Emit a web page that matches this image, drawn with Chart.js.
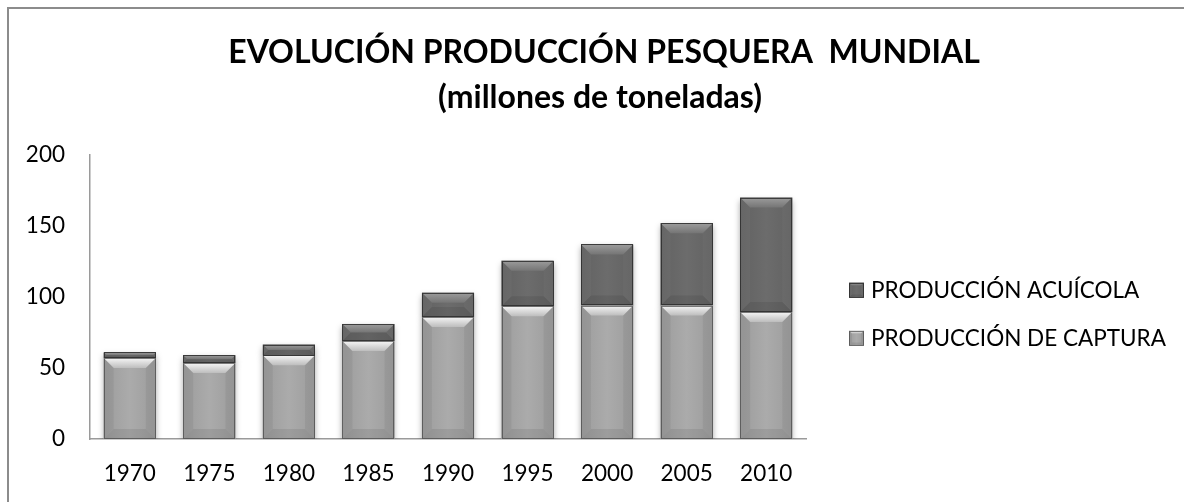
<!DOCTYPE html>
<html lang="es">
<head>
  <meta charset="UTF-8" />
  <title>Evolución producción pesquera mundial</title>
  <script src="https://cdn.jsdelivr.net/npm/chart.js"></script>
  <style>
    html, body { margin: 0; padding: 0; background: #fff; }
    #grafica { display: block; }
  </style>
</head>
<body>
  <canvas id="grafica" width="1184" height="502"></canvas>

  <script>
    // datos (millones de toneladas)
    const anios = ["1970", "1975", "1980", "1985", "1990", "1995", "2000", "2005", "2010"];
    const captura = [57, 53.5, 59, 69, 86, 93.5, 94, 94, 89.5];
    const acuicola = [4, 5.5, 7.5, 12, 17, 32, 43, 58, 80.5];
    const titulo = ["EVOLUCIÓN PRODUCCIÓN PESQUERA  MUNDIAL", "(millones de toneladas)"];
    const etiquetas = ["PRODUCCIÓN DE CAPTURA", "PRODUCCIÓN ACUÍCOLA"];
    const ticksY = [0, 50, 100, 150, 200];

    const FUENTE = "Lato, 'Open Sans', sans-serif";
    const colores = ["#a7a7a7", "#6b6b6b"];

    // marco, título y leyenda
    const textos = {
      id: "textos",
      beforeDraw(chart) {
        const ctx = chart.ctx;
        ctx.save();
        ctx.fillStyle = "#fff";
        ctx.fillRect(0, 0, chart.width, chart.height);
        ctx.strokeStyle = "#8c8c8c";
        ctx.lineWidth = 2;
        ctx.strokeRect(8, 8, chart.width + 20, chart.height + 20);
        ctx.restore();
      },
      afterDraw(chart) {
        const ctx = chart.ctx;
        ctx.save();
        ctx.fillStyle = "#000";
        ctx.textAlign = "center";
        ctx.textBaseline = "alphabetic";
        ctx.font = "bold 32px " + FUENTE;
        ctx.fillText(titulo[0], 604, 63);
        ctx.fillText(titulo[1], 600, 108);

        // leyenda (orden inverso, como en la original)
        ctx.font = "22.5px " + FUENTE;
        ctx.textAlign = "left";
        ctx.textBaseline = "middle";
        const items = [1, 0];
        items.forEach((i, fila) => {
          const yc = 290 + fila * 48;
          const x0 = 849, s = 15;
          bisel(ctx, x0, yc - s / 2, x0 + s, yc + s / 2, colores[i], i === 0, 3);
          ctx.fillStyle = "#000";
          ctx.fillText(etiquetas[i], 871, yc + 1);
        });
        ctx.restore();
      },
      beforeDatasetsDraw(chart) {
        const ctx = chart.ctx;
        ctx.save();
        ctx.shadowColor = "rgba(0,0,0,0.35)";
        ctx.shadowBlur = 6;
        ctx.shadowOffsetY = 3;
      },
      afterDatasetsDraw(chart) {
        const ctx = chart.ctx;
        ctx.restore();
        chart.data.datasets.forEach((ds, i) => {
          const meta = chart.getDatasetMeta(i);
          meta.data.forEach(el => {
            const p = el.getProps(["x", "y", "base", "width"], true);
            const L = p.x - p.width / 2, R = p.x + p.width / 2;
            const T = Math.min(p.y, p.base), B = Math.max(p.y, p.base);
            bisel(ctx, L, T, R, B, colores[i], i === 0, 10);
          });
        });
      }
    };

    // dibuja el relieve de un rectángulo
    function bisel(ctx, L, T, R, B, color, claro, tam) {
      const b = Math.min(tam, (B - T) / 2, (R - L) / 2);
      ctx.save();
      // cara central con degradado horizontal
      const g = ctx.createLinearGradient(L, 0, R, 0);
      if (claro) {
        g.addColorStop(0, "#9c9c9c");
        g.addColorStop(0.5, "#ababab");
        g.addColorStop(1, "#9c9c9c");
      } else {
        g.addColorStop(0, "#626262");
        g.addColorStop(0.5, "#6c6c6c");
        g.addColorStop(1, "#626262");
      }
      ctx.fillStyle = g;
      ctx.fillRect(L, T, R - L, B - T);

      // arriba
      const gt = ctx.createLinearGradient(0, T, 0, T + b);
      if (claro) {
        gt.addColorStop(0, "#f6f6f6");
        gt.addColorStop(1, "#bdbdbd");
      } else {
        gt.addColorStop(0, "#9c9c9c");
        gt.addColorStop(1, "#757575");
      }
      poli(ctx, [[L, T], [R, T], [R - b, T + b], [L + b, T + b]], gt);
      // lados
      const lado = claro ? "rgba(0,0,0,0.05)" : "rgba(255,255,255,0.03)";
      poli(ctx, [[L, T], [L + b, T + b], [L + b, B - b], [L, B]], lado);
      poli(ctx, [[R, T], [R - b, T + b], [R - b, B - b], [R, B]], lado);
      // abajo
      poli(ctx, [[L, B], [L + b, B - b], [R - b, B - b], [R, B]], "rgba(0,0,0,0.08)");
      // contorno
      ctx.strokeStyle = claro ? "rgba(70,70,70,0.7)" : "rgba(45,45,45,0.85)";
      ctx.lineWidth = 1;
      ctx.strokeRect(Math.round(L) + 0.5, Math.round(T) + 0.5, Math.round(R - L) - 1, Math.round(B - T) - 1);
      ctx.restore();
    }

    function poli(ctx, pts, estilo) {
      ctx.beginPath();
      ctx.moveTo(pts[0][0], pts[0][1]);
      for (let k = 1; k < pts.length; k++) ctx.lineTo(pts[k][0], pts[k][1]);
      ctx.closePath();
      ctx.fillStyle = estilo;
      ctx.fill();
    }

    new Chart(document.getElementById("grafica"), {
      type: "bar",
      data: {
        labels: anios,
        datasets: [
          { label: etiquetas[0], data: captura, backgroundColor: colores[0], borderWidth: 0 },
          { label: etiquetas[1], data: acuicola, backgroundColor: colores[1], borderWidth: 0 }
        ]
      },
      options: {
        responsive: false,
        animation: false,
        devicePixelRatio: 1,
        layout: { padding: { top: 155, left: 0, right: 378, bottom: 0 } },
        datasets: { bar: { categoryPercentage: 1, barPercentage: 0.655 } },
        scales: {
          x: {
            stacked: true,
            afterFit(scale) { scale.height = 63; },
            grid: { display: false, drawTicks: false },
            border: { display: true, color: "#9a9a9a", width: 1.5 },
            ticks: { color: "#000", font: { family: FUENTE, size: 22.5 }, padding: 21 }
          },
          y: {
            stacked: true,
            min: 0,
            max: 200,
            afterFit(scale) { scale.width = 90; },
            afterBuildTicks(scale) { scale.ticks = ticksY.map(v => ({ value: v })); },
            grid: { display: false, drawTicks: false },
            border: { display: true, color: "#9a9a9a", width: 1.5 },
            ticks: { color: "#000", font: { family: FUENTE, size: 22.5 }, padding: 25 }
          }
        },
        plugins: {
          legend: { display: false },
          title: { display: false },
          tooltip: { enabled: false }
        }
      },
      plugins: [textos]
    });
  </script>
</body>
</html>
